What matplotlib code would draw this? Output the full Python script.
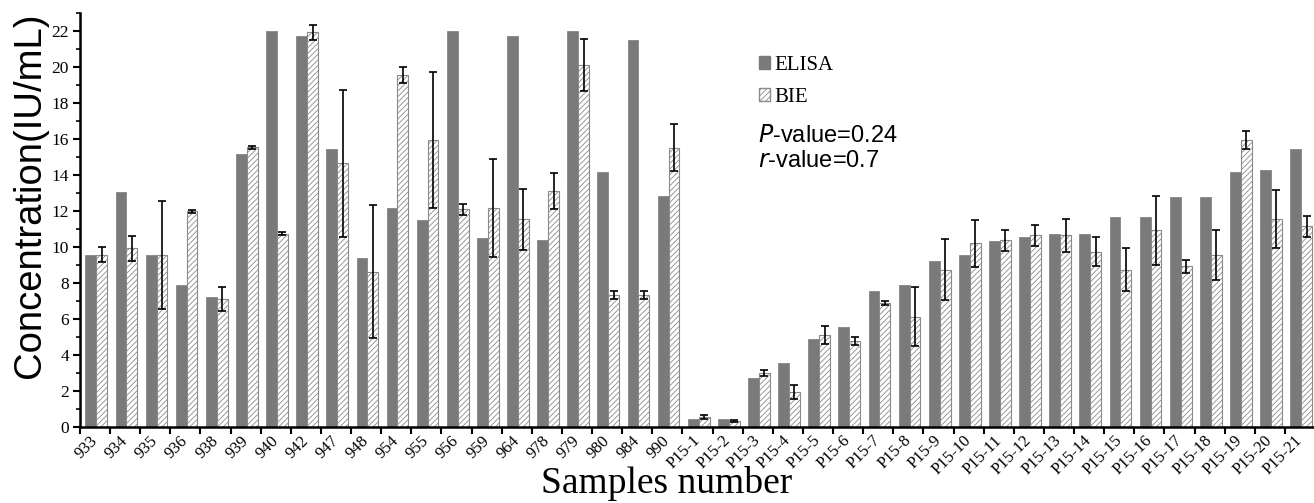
import matplotlib

matplotlib.use("Agg")
import matplotlib.pyplot as plt
import numpy as np
from matplotlib.patches import Patch
from matplotlib.ticker import MultipleLocator

samples = ["933", "934", "935", "936", "938", "939", "940", "942", "947", "948",
           "954", "955", "956", "959", "964", "978", "979", "980", "984", "990",
           "P15-1", "P15-2", "P15-3", "P15-4", "P15-5", "P15-6", "P15-7",
           "P15-8", "P15-9", "P15-10", "P15-11", "P15-12", "P15-13", "P15-14",
           "P15-15", "P15-16", "P15-17", "P15-18", "P15-19", "P15-20", "P15-21"]

elisa = [9.56, 13.04, 9.55, 7.87, 7.2, 15.15, 22.0, 21.75, 15.45, 9.38,
         12.17, 11.48, 22.0, 10.5, 21.7, 10.38, 22.0, 14.15, 21.5, 12.85,
         0.46, 0.46, 2.72, 3.57, 4.9, 5.57, 7.56, 7.87, 9.2, 9.56, 10.36,
         10.54, 10.72, 10.72, 11.65, 11.65, 12.78, 12.78, 14.15, 14.28, 15.45]

bie = [9.58, 9.93, 9.55, 11.98, 7.12, 15.53, 10.73, 21.92, 14.65, 8.62,
       19.55, 15.95, 12.1, 12.17, 11.55, 13.1, 20.12, 7.32, 7.32, 15.52,
       0.54, 0.33, 3.0, 1.95, 5.13, 4.78, 6.88, 6.13, 8.73, 10.2, 10.37,
       10.65, 10.65, 9.73, 8.73, 10.92, 8.92, 9.55, 15.95, 11.55, 11.15]

bie_err = [0.4, 0.7, 3.0, 0.1, 0.65, 0.08, 0.08, 0.4, 4.1, 3.7,
           0.43, 3.8, 0.3, 2.7, 1.7, 1.0, 1.45, 0.23, 0.23, 1.3,
           0.1, 0.04, 0.15, 0.4, 0.5, 0.2, 0.1, 1.65, 1.7, 1.3, 0.6,
           0.6, 0.9, 0.8, 1.2, 1.9, 0.35, 1.4, 0.5, 1.6, 0.6]

SERIF = "Liberation Serif"
SANS = "Liberation Sans"
plt.rcParams["hatch.linewidth"] = 0.6

W, H = 1314, 503
fig = plt.figure(figsize=(W / 100, H / 100), dpi=100)
ax = fig.add_axes([80 / W, 76 / H, 1235 / W, 414 / H])

x = np.arange(len(samples))
bw = 0.36
ax.bar(x - 0.14, elisa, width=bw, color="#7a7a7a", edgecolor="#7a7a7a",
       linewidth=0.5, label="ELISA", zorder=2)
ax.bar(x + 0.22, bie, width=bw, color="white", edgecolor="#8a8a8a",
       hatch="//////", linewidth=0.8, label="BIE", zorder=2)
ax.errorbar(x + 0.22, bie, yerr=bie_err, fmt="none", ecolor="black",
            elinewidth=1.2, capsize=3, capthick=1.2, zorder=3)

ax.set_xlim(-0.5, len(samples) - 0.5)
ax.set_ylim(0, 23)

for side in ("top", "right"):
    ax.spines[side].set_visible(False)
for side in ("left", "bottom"):
    ax.spines[side].set_linewidth(1.8)

ax.yaxis.set_minor_locator(MultipleLocator(1))
ax.set_yticks(np.arange(0, 23, 2))
ax.tick_params(axis="y", which="major", direction="out", length=5, width=1.5,
               pad=3, labelsize=12.5)
ax.tick_params(axis="y", which="minor", direction="out", length=3, width=1.2)
for lab in ax.get_yticklabels():
    lab.set_family(SERIF)

# ticks on group boundaries, labels (minor ticks) near group centres
ax.set_xticks(x - 0.5)
ax.set_xticklabels([])
ax.tick_params(axis="x", which="major", direction="out", length=5, width=1.5)
ax.set_xticks(x - 0.18, minor=True)
ax.set_xticklabels(samples, minor=True, rotation=45, ha="right",
                   rotation_mode="anchor", family=SERIF, fontsize=12)
ax.tick_params(axis="x", which="minor", length=0, pad=4)

handles = [Patch(facecolor="#7a7a7a", edgecolor="#7a7a7a", label="ELISA"),
           Patch(facecolor="white", edgecolor="#8a8a8a", hatch="//////",
                 label="BIE")]
ax.legend(handles=handles, loc="upper left",
          bbox_to_anchor=(759 / W, 1 - 56 / H), bbox_transform=fig.transFigure,
          frameon=False, prop={"family": SERIF, "size": 15},
          handlelength=0.55, handleheight=0.6, handletextpad=0.2,
          borderpad=0, borderaxespad=0, labelspacing=0.6)

fig.text(758 / W, 1 - 141.7 / H, "$\\it{P}$-value=0.24", family=SANS,
         fontsize=17, va="baseline", ha="left")
fig.text(758 / W, 1 - 166.7 / H, "$\\it{r}$-value=0.7", family=SANS,
         fontsize=17, va="baseline", ha="left")

fig.text(12 / W, 1 - 195 / H, "Concentration(IU/mL)", family=SANS,
         fontsize=27.5, rotation=90, ha="left", va="center")
fig.text(667 / W, 10 / H, "Samples number", family=SERIF, fontsize=27,
         ha="center", va="baseline")

fig.savefig("out.png", dpi=100)
